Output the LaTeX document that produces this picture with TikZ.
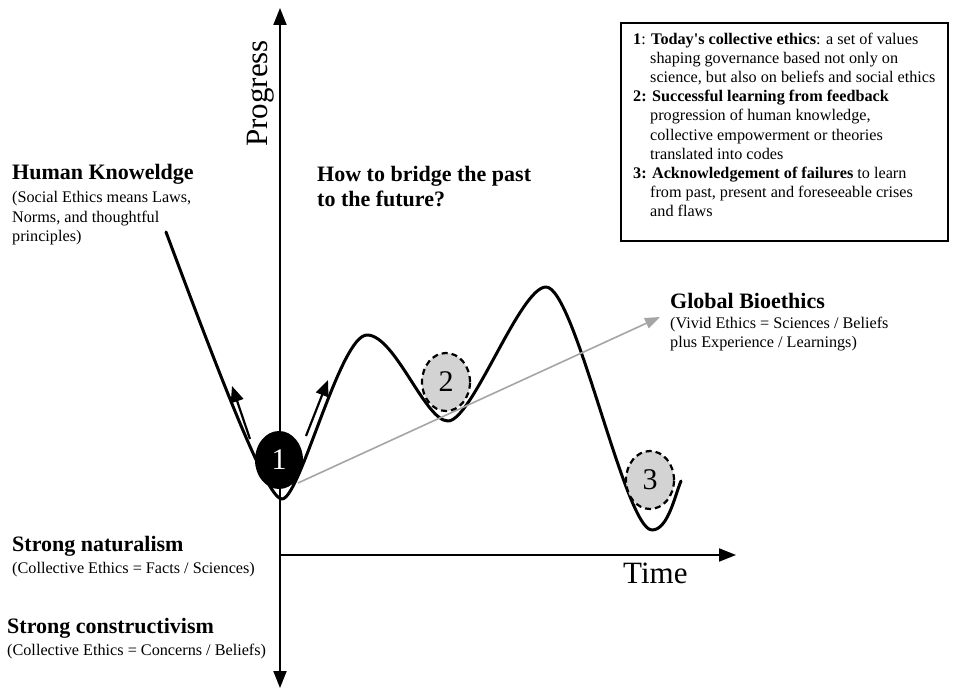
\documentclass[tikz,border=0pt]{standalone}
\usepackage{fontspec}
\setmainfont{Liberation Serif}
\usetikzlibrary{arrows.meta,shapes.geometric}
\newcommand{\stack}[1]{\begin{tabular}[t]{@{}l@{}}#1\end{tabular}}
\begin{document}
\begin{tikzpicture}[x=1pt,y=-1pt,
  body/.style={font=\fontsize{16.2}{19.4}\selectfont, inner sep=0pt, anchor=base west},
  head/.style={font=\fontsize{22}{25}\selectfont\bfseries, inner sep=0pt, anchor=base west},
  axislabel/.style={font=\fontsize{31}{36}\selectfont, inner sep=0pt, anchor=base west},
  axisline/.style={line width=2pt, -{Triangle[length=17pt,width=13pt]}},
  landscape/.style={line width=3pt, line cap=round, line join=round},
  nudge/.style={line width=2.2pt, -{Triangle[length=16pt,width=13pt]}},
  trend/.style={draw={rgb,255:red,165;green,165;blue,165}, line width=1.6pt,
    -{Triangle[length=15pt,width=11pt]}},
  stage/.style={ellipse, minimum width=48pt, minimum height=58pt, inner sep=0pt,
    font=\fontsize{30}{34}\selectfont},
  marked/.style={stage, fill={rgb,255:red,211;green,211;blue,211}, draw=black,
    line width=2.2pt, dash pattern=on 6pt off 4pt},
]
\useasboundingbox (0,0) rectangle (953,692);

% axes
\coordinate (ybot) at (280,688);
\coordinate (ytop) at (280,8);
\coordinate (origin) at (280,555);
\coordinate (xend) at (736,555);
\draw[axisline] (origin) -- (ytop);
\draw[axisline] (origin) -- (ybot);
\draw[axisline] (origin) -- (xend);
\node[axislabel, rotate=90] (progress) at (267,147) {Progress};
\node[axislabel] (time) at (623,583) {Time};

% the landscape of ethics
\coordinate (start) at (166,232);
\coordinate (m1) at (282,499);
\coordinate (p1) at (367,335);
\coordinate (v2) at (448,421);
\coordinate (p2) at (546,287);
\coordinate (v3) at (652,530);
\coordinate (finish) at (681,481);
\draw[landscape] (start) .. controls (229,401) and (268,499) .. (m1)
  .. controls (300,499) and (340,335) .. (p1)
  .. controls (395,335) and (425,421) .. (v2)
  .. controls (472,421) and (520,287) .. (p2)
  .. controls (575,287) and (625,530) .. (v3)
  .. controls (668,530) and (675,495) .. (finish);

% trend towards global bioethics
\coordinate (trendstart) at (298,483);
\coordinate (trendend) at (660,317);
\draw[trend] (trendstart) -- (trendend);

% stages
\node[stage, fill=black, text=white] (s1) at (279,460) {1};
\node[marked] (s2) at (446,382) {2};
\node[marked] (s3) at (650,480) {3};

% small arrows leaving stage 1
\coordinate (lt) at (250,439);
\coordinate (lh) at (232,386);
\coordinate (rt) at (306,436);
\coordinate (rh) at (328,380);
\draw[nudge] (lt) -- (lh);
\draw[nudge] (rt) -- (rh);

% labels
\node[head] (hk) at (12,180) {Human Knoweldge};
\node[body] (hkt) at (12,202.7) {\stack{(Social Ethics means Laws,\\Norms, and thoughtful\\principles)}};

\node[head] (bridge) at (317,181.5) {\stack{How to bridge the past\\to the future?}};

\node[head] (gb) at (670,309) {Global Bioethics};
\node[body] (gbt) at (670,328.5) {\stack{(Vivid Ethics = Sciences / Beliefs\\plus Experience / Learnings)}};

\node[head] (sn) at (12,551.5) {Strong naturalism};
\node[body] (snt) at (12,573) {(Collective Ethics = Facts / Sciences)};
\node[head] (sc) at (7,633) {Strong constructivism};
\node[body] (sct) at (7,655) {(Collective Ethics = Concerns / Beliefs)};

% legend
\node[draw, line width=1.6pt, minimum width=327pt, minimum height=218pt,
  inner sep=0pt, anchor=north west] (legend) at (620,22) {};
\node[body, font=\fontsize{16.2}{19.15}\selectfont] (legendtext) at (633,44.3) {\stack{%
\textbf{1}: \textbf{Today\textquotesingle s collective ethics}: a set of values\\
\hspace*{17pt}shaping governance based not only on\\
\hspace*{17pt}science, but also on beliefs and social ethics\\
\textbf{2: Successful learning from feedback}\\
\hspace*{17pt}progression of human knowledge,\\
\hspace*{17pt}collective empowerment or theories\\
\hspace*{17pt}translated into codes\\
\textbf{3: Acknowledgement of failures} to learn\\
\hspace*{17pt}from past, present and foreseeable crises\\
\hspace*{17pt}and flaws}};
\end{tikzpicture}
\end{document}
